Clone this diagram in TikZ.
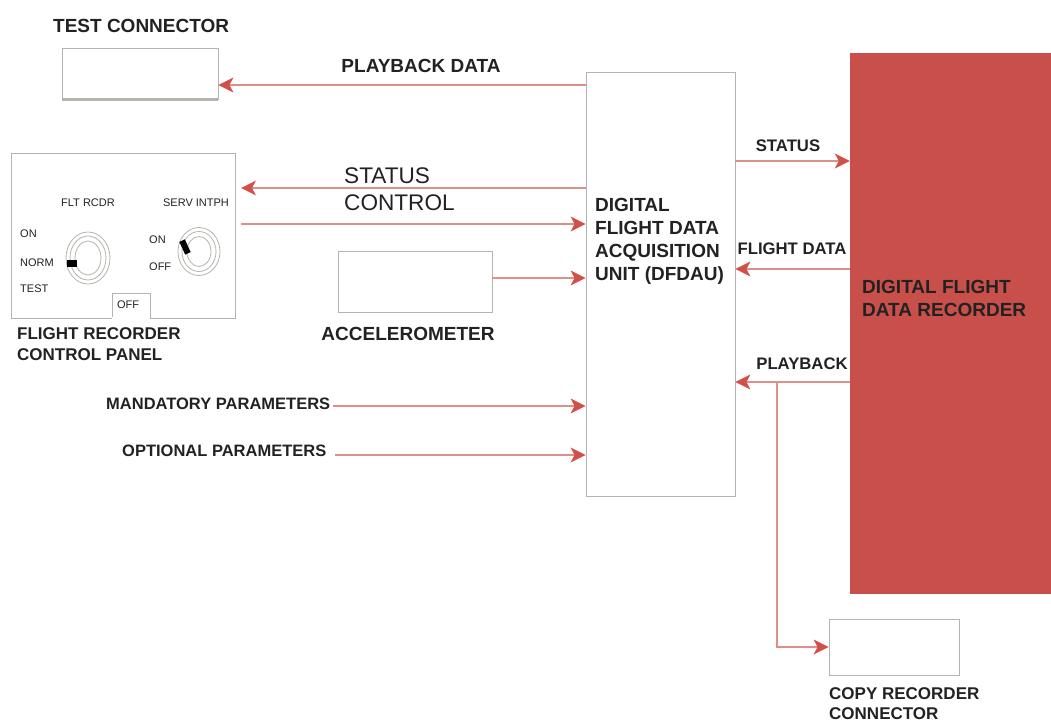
\documentclass[tikz,border=0pt]{standalone}
\usepackage{fontspec}
\setmainfont{Liberation Sans}
\usetikzlibrary{arrows.meta}
\definecolor{recred}{HTML}{C9504A}
\definecolor{linered}{HTML}{E08E88}
\definecolor{headred}{HTML}{D2504A}
\definecolor{boxgray}{HTML}{B4B4AE}
\definecolor{inkgray}{HTML}{222222}
\tikzset{
    box/.style={draw=boxgray, fill=white, line width=0.9pt, inner sep=0pt},
    sig/.style={draw=linered, line width=2.4pt, -{Stealth[length=15pt,width=15pt,inset=4pt,color=headred,fill=headred,line width=0pt]}},
    lbl/.style={font=\fontsize{17}{20.5}\selectfont\bfseries, text=inkgray, inner sep=0pt, align=left},
    lblbig/.style={font=\fontsize{19}{23}\selectfont\bfseries, text=inkgray, inner sep=0pt, align=left},
    sigl/.style={font=\fontsize{16.7}{18}\selectfont\bfseries, text=inkgray, inner sep=0pt},
    plain/.style={font=\fontsize{22.6}{28}\selectfont, text=inkgray, inner sep=0pt, anchor=west},
    panl/.style={font=\fontsize{11}{12}\selectfont, text=inkgray, inner sep=0pt},
    dial/.style={draw=boxgray, line width=0.8pt}
}
\begin{document}
\begin{tikzpicture}[x=1pt, y=-1pt, >=stealth]
    \useasboundingbox (0,0) rectangle (1051,722);
    % boxes
    \node[box, minimum width=156pt, minimum height=51pt] (testconn) at (140,73.5) {};
    \draw[boxgray, line width=3.5pt] (testconn.south west) -- (testconn.south east);
    \node[box, minimum width=149pt, minimum height=424pt] (dfdau) at (660.5,284) {};
    \node[fill=recred, inner sep=0pt, minimum width=201pt, minimum height=541pt] (dfdr) at (950.5,323.5) {};
    \node[box, minimum width=224pt, minimum height=165pt] (panel) at (123,235.5) {};
    \node[box, minimum width=38pt, minimum height=25pt] (offtab) at (131,305.5) {};
    \draw[white, line width=2pt] ([xshift=0.8pt]offtab.south west) -- ([xshift=-0.8pt]offtab.south east);
    \node[box, minimum width=154pt, minimum height=61pt] (accel) at (415,281.5) {};
    \node[box, minimum width=130pt, minimum height=56pt] (copyconn) at (894,647) {};
    % box texts
    \node[lblbig, anchor=west] (testlbl) at (53,26) {TEST CONNECTOR};
    \node[lblbig, anchor=west] (dfdaulbl) at (595,241) {DIGITAL\\FLIGHT DATA\\ACQUISITION\\UNIT (DFDAU)};
    \node[lblbig, anchor=west] (dfdrlbl) at (862,298) {DIGITAL FLIGHT\\DATA RECORDER};
    \node[lbl, anchor=west] (panellbl) at (17,344) {FLIGHT RECORDER\\CONTROL PANEL};
    \node[lblbig, anchor=center] (accellbl) at (408,334) {ACCELEROMETER};
    \node[lbl, anchor=north west] (copylbl) at (829,687) {COPY RECORDER\\CONNECTOR};
    % control panel
    \node[panl] (fltrcdr) at (88,203) {FLT RCDR};
    \node[panl] (servintph) at (196,203) {SERV INTPH};
    \node[panl, anchor=west] (onleft) at (20,234) {ON};
    \node[panl, anchor=west] (normleft) at (20,263) {NORM};
    \node[panl, anchor=west] (testleft) at (20,289) {TEST};
    \node[panl, anchor=west] (onright) at (149,240) {ON};
    \node[panl, anchor=west] (offright) at (149,267) {OFF};
    \node[panl] (offlbl) at (128,305) {OFF};
    \foreach \r/\s in {22/26, 18/22, 13/17} {
        \draw[dial] (88,258) ellipse ({\r} and {\s});
        \draw[dial] (199,251.5) ellipse ({\r-1} and {\s-2});
    }
    \fill[black] (67,260) rectangle (77,267);
    \fill[black, rotate around={25:(185,247)}] (182,240) rectangle (188,254);
    % signals
    \coordinate (statusl) at (241,188);
    \coordinate (controll) at (241,224);
    \coordinate (mandl) at (333,406);
    \coordinate (optl) at (335,455);
    \coordinate (branch) at (777,382);
    \draw[sig] (dfdau.west |- 0,85) -- (testconn.east |- 0,85);
    \draw[sig] (dfdau.west |- statusl) -- (statusl);
    \draw[sig] (controll) -- (dfdau.west |- controll);
    \draw[sig] (accel.east |- 0,278) -- (dfdau.west |- 0,278);
    \draw[sig] (mandl) -- (dfdau.west |- mandl);
    \draw[sig] (optl) -- (dfdau.west |- optl);
    \draw[sig] (dfdau.east |- 0,161) -- (dfdr.west |- 0,161);
    \draw[sig] (dfdr.west |- 0,269) -- (dfdau.east |- 0,269);
    \draw[sig] (dfdr.west |- branch) -- (dfdau.east |- branch);
    \draw[sig] (branch) -- (branch |- copyconn) -- (copyconn.west);
    % signal labels
    \node[lblbig, anchor=center] (playdata) at (421,66) {PLAYBACK DATA};
    \node[plain] (statustxt) at (344,176) {STATUS};
    \node[plain] (controltxt) at (344,203) {CONTROL};
    \node[font=\fontsize{16.5}{19}\selectfont\bfseries, text=inkgray, inner sep=0pt, anchor=west] (mandtxt) at (106,404) {MANDATORY PARAMETERS};
    \node[font=\fontsize{16.5}{19}\selectfont\bfseries, text=inkgray, inner sep=0pt, anchor=west] (opttxt) at (122,451) {OPTIONAL PARAMETERS};
    \node[sigl] (statusr) at (788,146) {STATUS};
    \node[sigl] (flightr) at (792,249) {FLIGHT DATA};
    \node[sigl] (playr) at (802,364) {PLAYBACK};
\end{tikzpicture}
\end{document}
